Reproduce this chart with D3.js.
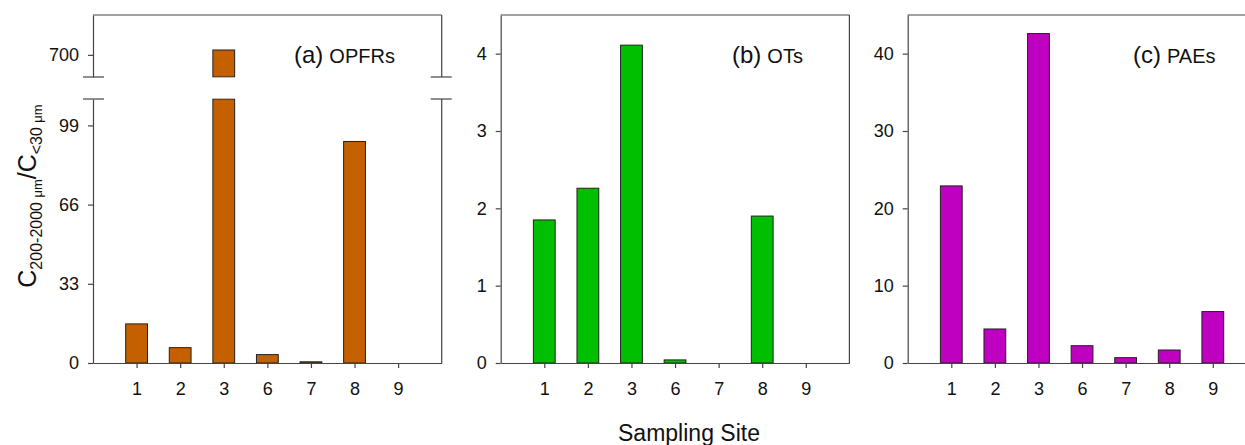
<!DOCTYPE html>
<html>
<head>
<meta charset="utf-8">
<script src="https://cdn.jsdelivr.net/npm/d3@7"></script>
<style>
  body { margin: 0; background: #fff; }
  svg text { font-family: "Liberation Sans", Arial, sans-serif; fill: #111; }
  .axis path, .axis line { stroke: #444; stroke-width: 1.2; }
</style>
</head>
<body>
<script>
'use strict';

// sampling sites (x categories)
const sites = ["1", "2", "3", "6", "7", "8", "9"];

// ratio C(200-2000 um) / C(<30 um) per site
const opfrs = [16.3, 6.4, 711, 3.5, 0.5, 92.3, 0];
const ots = [1.85, 2.26, 4.11, 0.04, 0, 1.90, 0];
const paes = [22.9, 4.4, 42.6, 2.24, 0.69, 1.68, 6.65];

// tick labels
const ticksALow = [0, 33, 66, 99];
const ticksAHigh = [700];
const ticksB = [0, 1, 2, 3, 4];
const ticksC = [0, 10, 20, 30, 40];

(function() {

  let svg = d3.select('body')
    .append('svg')
    .attr('width', 1245)
    .attr('height', 445);

  let plotTop = 15, plotBottom = 363, panelW = 348.7;
  let tickFont = '18px';

  function makeX(left) {
    return d3.scaleLinear().domain([0, 8]).range([left, left + panelW]);
  }

  function drawXAxis(x) {
    svg.append('g')
      .attr('class', 'axis')
      .attr('transform', 'translate(0,' + plotBottom + ')')
      .call(d3.axisBottom(x)
        .tickValues(d3.range(1, sites.length + 1))
        .tickFormat((d) => sites[d - 1])
        .tickSizeInner(5).tickSizeOuter(0).tickPadding(14))
      .selectAll('text').style('font-size', tickFont);
  }

  function drawYAxis(x, y, ticks) {
    svg.append('g').attr('class', 'axis')
      .attr('transform', 'translate(' + x(0) + ',0)')
      .call(d3.axisLeft(y).tickValues(ticks).tickFormat(d3.format('d'))
        .tickSizeInner(5).tickSizeOuter(0).tickPadding(9))
      .selectAll('text').style('font-size', tickFont);
  }

  function drawBars(x, y, values, color) {
    let bw = (x(1) - x(0)) * 0.5;
    let cap = (d) => Math.min(d, y.domain()[1]);
    svg.append('g').selectAll('rect')
      .data(values)
      .enter()
      .append('rect')
        .attr('x', (d, i) => x(i + 1) - bw / 2)
        .attr('width', bw)
        .attr('y', (d) => y(cap(d)))
        .attr('height', (d) => y(0) - y(cap(d)))
        .attr('fill', color)
        .attr('stroke', '#222')
        .attr('stroke-width', 1);
  }

  function frameLine(x1, y1, x2, y2) {
    svg.append('line')
      .attr('x1', x1).attr('y1', y1).attr('x2', x2).attr('y2', y2)
      .attr('stroke', '#444').attr('stroke-width', 1.2);
  }

  function panelLabel(xPos, letter, name) {
    let t = svg.append('text').attr('x', xPos).attr('y', 63);
    t.append('tspan').style('font-size', '24px').text('(' + letter + ')');
    t.append('tspan').style('font-size', '20px').attr('dx', 6).text(name);
  }

  // ---- panel (a) with broken axis ----
  let xA = makeX(93);
  let breakLow = 99, breakHigh = 77;
  let yALow = d3.scaleLinear().domain([0, 110]).range([plotBottom, breakLow]);
  let yAHigh = d3.scaleLinear().domain([650, 790]).range([breakHigh, plotTop]);

  drawBars(xA, yALow, opfrs, '#C46000');
  // upper part of the broken bars
  let bwA = (xA(1) - xA(0)) * 0.5;
  svg.append('g').selectAll('rect')
    .data(opfrs.map((d, i) => ({v: d, i: i})).filter((d) => d.v > yAHigh.domain()[0]))
    .enter()
    .append('rect')
      .attr('x', (d) => xA(d.i + 1) - bwA / 2)
      .attr('width', bwA)
      .attr('y', (d) => yAHigh(d.v))
      .attr('height', (d) => breakHigh - yAHigh(d.v))
      .attr('fill', '#C46000')
      .attr('stroke', '#222')
      .attr('stroke-width', 1);
  // white gap over break
  svg.append('rect')
    .attr('x', xA(0) - 15).attr('y', breakHigh + 0.6)
    .attr('width', panelW + 30).attr('height', breakLow - breakHigh - 1.2)
    .attr('fill', '#fff');

  drawYAxis(xA, yALow, ticksALow);
  drawYAxis(xA, yAHigh, ticksAHigh);
  drawXAxis(xA);
  frameLine(xA(0), plotTop, xA(8), plotTop);
  frameLine(xA(8), plotTop, xA(8), breakHigh);
  frameLine(xA(8), breakLow, xA(8), plotBottom);
  [breakHigh, breakLow].forEach((yy) => {
    frameLine(xA(0) - 10, yy, xA(0) + 11, yy);
    frameLine(xA(8) - 11, yy, xA(8) + 10, yy);
  });
  panelLabel(294, 'a', 'OPFRs');

  // ---- panel (b) ----
  let xB = makeX(500.7);
  let yB = d3.scaleLinear().domain([0, 4.5]).range([plotBottom, plotTop]);
  drawBars(xB, yB, ots, '#00BE00');
  drawYAxis(xB, yB, ticksB);
  drawXAxis(xB);
  frameLine(xB(0), plotTop, xB(8), plotTop);
  frameLine(xB(8), plotTop, xB(8), plotBottom);
  panelLabel(732, 'b', 'OTs');

  // ---- panel (c) ----
  let xC = makeX(907.7);
  let yC = d3.scaleLinear().domain([0, 45]).range([plotBottom, plotTop]);
  drawBars(xC, yC, paes, '#C000C0');
  drawYAxis(xC, yC, ticksC);
  drawXAxis(xC);
  frameLine(xC(0), plotTop, xC(8), plotTop);
  frameLine(xC(8), plotTop, xC(8), plotBottom);
  panelLabel(1133, 'c', 'PAEs');

  // ---- axis titles ----
  let yTitle = svg.append('text')
    .attr('transform', 'translate(36,196)rotate(-90)')
    .attr('text-anchor', 'middle');
  yTitle.append('tspan').style('font-size', '25px').text('C');
  yTitle.append('tspan').style('font-size', '16px').attr('dy', 6).text('200-2000 ');
  yTitle.append('tspan').style('font-size', '13px').text('μm');
  yTitle.append('tspan').style('font-size', '25px').attr('dy', -6).text('/C');
  yTitle.append('tspan').style('font-size', '16px').attr('dy', 6).text('<30 ');
  yTitle.append('tspan').style('font-size', '13px').text('μm');

  svg.append('text')
    .attr('x', 689)
    .attr('y', 441)
    .attr('text-anchor', 'middle')
    .style('font-size', '23px')
    .text('Sampling Site');
})();
</script>
</body>
</html>
